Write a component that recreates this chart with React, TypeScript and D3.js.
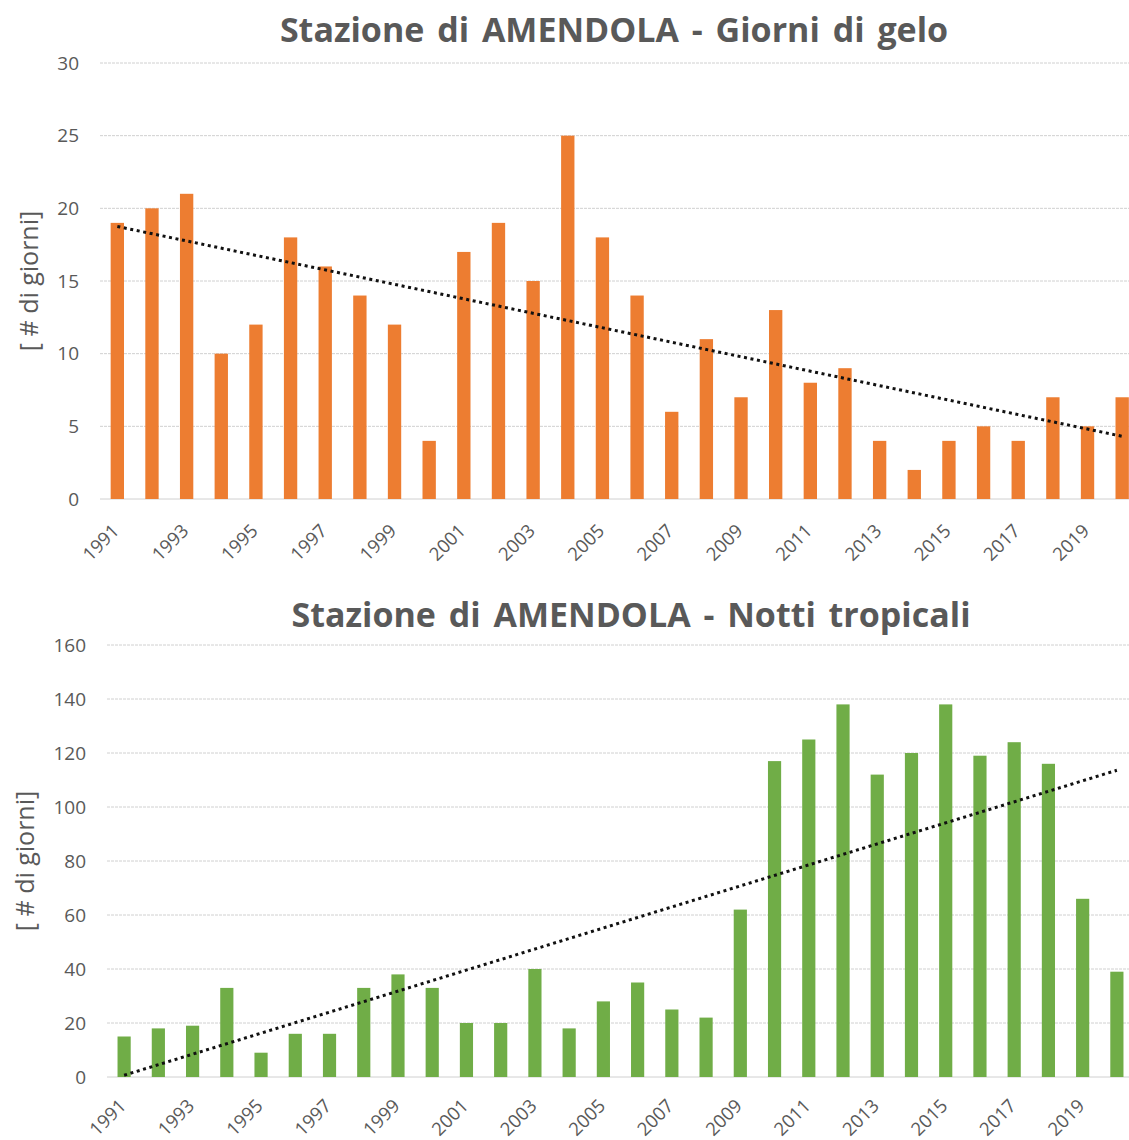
import React from "react";
import * as d3 from "d3";

const years: number[] = d3.range(1991, 2021);
const frostDays: number[] = [19, 20, 21, 10, 12, 18, 16, 14, 12, 4, 17, 19, 15, 25, 18, 14, 6, 11, 7, 13, 8, 9, 4, 2, 4, 5, 4, 7, 5, 7];
const tropicalNights: number[] = [15, 18, 19, 33, 9, 16, 16, 33, 38, 33, 20, 20, 40, 18, 28, 35, 25, 22, 62, 117, 125, 138, 112, 120, 138, 119, 124, 116, 66, 39];
const frostTicks: number[] = [0, 5, 10, 15, 20, 25, 30];
const tropicalTicks: number[] = [0, 20, 40, 60, 80, 100, 120, 140, 160];
const titles: string[] = ["Stazione di AMENDOLA - Giorni di gelo", "Stazione di AMENDOLA - Notti tropicali"];
const yTitle = "[ # di giorni]";

const FONT = "'Open Sans', 'Liberation Sans', sans-serif";
const TXT = "#595959";

type ChartProps = {
  values: number[];
  ticks: number[];
  color: string;
  title: string;
  x0: number;
  x1: number;
  yBase: number;
  yTop: number;
  titleX: number;
  titleY: number;
  tickRight: number;
  yTitleX: number;
  yTitleY: number;
  labelDy: number;
};

function BarChart(p: ChartProps) {
  const x = d3.scaleBand<number>().domain(years).range([p.x0, p.x1]).paddingInner(0.615).paddingOuter(0.3075);
  const y = d3.scaleLinear().domain([0, p.ticks[p.ticks.length - 1]]).range([p.yBase, p.yTop]);
  const bw = x.bandwidth();
  // least-squares linear trend (like Excel's trendline) with x = 1..n
  const n = p.values.length;
  const xs = d3.range(1, n + 1);
  const mx = d3.mean(xs)!;
  const my = d3.mean(p.values)!;
  const slope = d3.sum(xs, (v, i) => (v - mx) * (p.values[i] - my)) / d3.sum(xs, (v) => (v - mx) * (v - mx));
  const icpt = my - slope * mx;
  const trend = d3.line<number>()
    .x((i) => x(years[i])! + bw / 2)
    .y((i) => y(icpt + slope * (i + 1)));
  return (
    <g>
      <text x={p.titleX} y={p.titleY} textAnchor="middle" fontFamily={FONT} fontWeight={700} fontSize={34} wordSpacing={4} fill={TXT}>
        {p.title}
      </text>
      {p.ticks.map((t) => (
        <g key={t}>
          <line x1={p.x0} x2={p.x1} y1={y(t)} y2={y(t)} stroke="#d0d0d0" strokeWidth={1} strokeDasharray={t === 0 ? undefined : "3 1"} />
          <text x={p.tickRight} y={y(t)} dy="0.35em" textAnchor="end" fontFamily={FONT} fontSize={19} fill={TXT}>
            {t}
          </text>
        </g>
      ))}
      {years.map((yr, i) => (
        <rect key={yr} x={x(yr)} y={y(p.values[i])} width={bw} height={p.yBase - y(p.values[i])} fill={p.color} />
      ))}
      <path d={trend([0, n - 1]) || ""} fill="none" stroke="#111" strokeWidth={3} strokeDasharray="3 3.6" />
      {years.filter((yr, i) => i % 2 === 0).map((yr) => {
        const cx = x(yr)! + bw / 2 + 3;
        const cy = p.yBase + p.labelDy;
        return (
          <text key={yr} x={cx} y={cy} textAnchor="end" transform={`rotate(-45 ${cx} ${cy})`} fontFamily={FONT} fontSize={18.5} fill={TXT}>
            {yr}
          </text>
        );
      })}
      <text x={p.yTitleX} y={p.yTitleY} textAnchor="middle" dy="0.35em" transform={`rotate(-90 ${p.yTitleX} ${p.yTitleY})`} fontFamily={FONT} fontSize={25} fill={TXT}>
        {yTitle}
      </text>
    </g>
  );
}

export default function App() {
  return (
    <svg width={1129} height={1140} style={{ position: "absolute", left: 0, top: 0, background: "#fff" }}>
      <rect width={1129} height={1140} fill="#fff" />
      <BarChart values={frostDays} ticks={frostTicks} color="#ED7D31" title={titles[0]}
        x0={100} x1={1139.5} yBase={499} yTop={63} titleX={614} titleY={42} tickRight={79} yTitleX={29} yTitleY={281} labelDy={33} />
      <BarChart values={tropicalNights} ticks={tropicalTicks} color="#70AD47" title={titles[1]}
        x0={107} x1={1134} yBase={1077} yTop={645} titleX={631} titleY={627} tickRight={86} yTitleX={25} yTitleY={861} labelDy={30} />
    </svg>
  );
}
